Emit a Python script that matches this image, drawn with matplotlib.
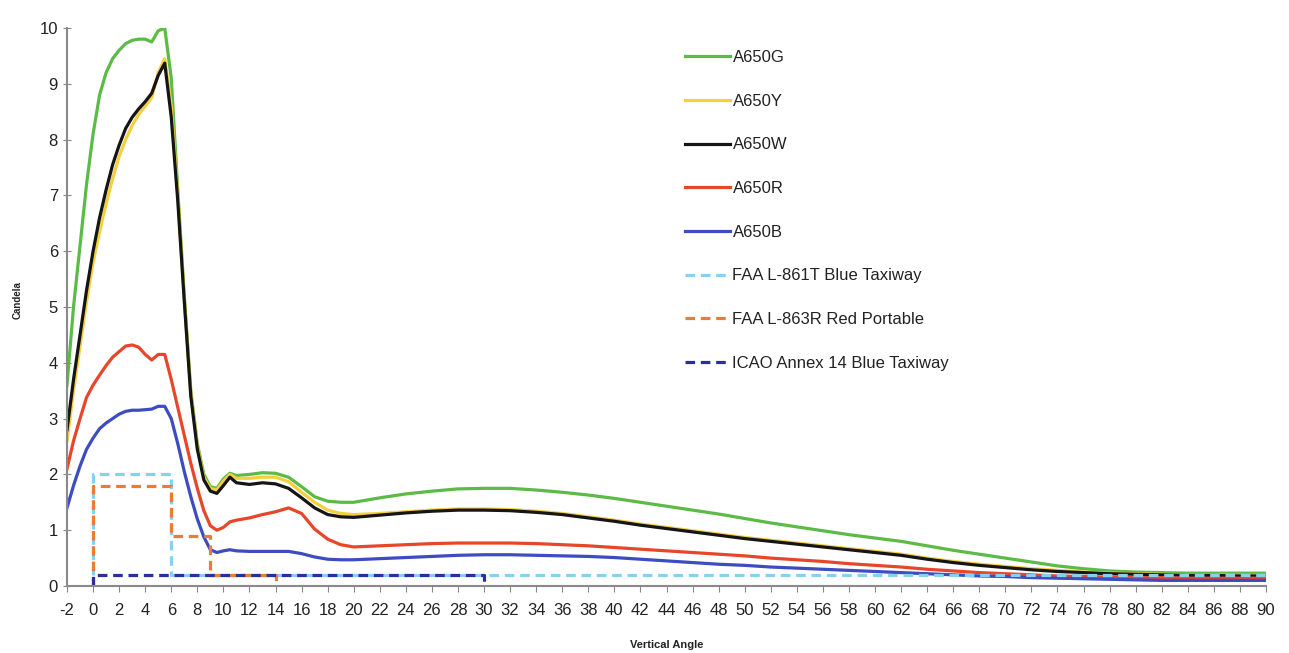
import matplotlib
matplotlib.use("Agg")
import matplotlib.pyplot as plt

plt.rcParams['font.family'] = ['Liberation Sans', 'DejaVu Sans']
plt.rcParams['axes.unicode_minus'] = False

angles = [-2, -1.5, -1, -0.5, 0, 0.5, 1, 1.5, 2, 2.5, 3, 3.5, 4, 4.5, 5, 5.5, 6, 6.5,
          7, 7.5, 8, 8.5, 9, 9.5, 10, 10.5, 11, 12, 13, 14, 15, 16, 17, 18, 19, 20,
          22, 24, 26, 28, 30, 32, 34, 36, 38, 40, 42, 44, 46, 48, 50, 52, 54, 56, 58,
          60, 62, 64, 66, 68, 70, 72, 74, 76, 78, 80, 82, 84, 86, 88, 90]

a650g = [3.6, 5.0, 6.1, 7.2, 8.1, 8.8, 9.2, 9.45, 9.6, 9.72, 9.78, 9.8, 9.8, 9.75, 9.95, 10.0, 9.1, 7.1,
         5.2, 3.5, 2.55, 2.0, 1.78, 1.75, 1.92, 2.02, 1.98, 2.0, 2.03, 2.02, 1.95, 1.78, 1.6, 1.52, 1.5, 1.5,
         1.58, 1.65, 1.7, 1.74, 1.75, 1.75, 1.72, 1.68, 1.63, 1.57, 1.5, 1.43, 1.36, 1.29, 1.21, 1.13, 1.06, 0.99, 0.92,
         0.86, 0.8, 0.72, 0.64, 0.57, 0.5, 0.43, 0.36, 0.31, 0.27, 0.25, 0.24, 0.23, 0.23, 0.23, 0.23]

a650y = [2.6, 3.5, 4.3, 5.1, 5.8, 6.35, 6.85, 7.3, 7.7, 8.0, 8.25, 8.45, 8.6, 8.75, 9.2, 9.45, 8.6, 7.0,
         5.15, 3.45, 2.5, 1.95, 1.75, 1.72, 1.88, 2.0, 1.93, 1.93, 1.95, 1.95, 1.87, 1.68, 1.5, 1.36, 1.3, 1.28,
         1.3, 1.33, 1.36, 1.38, 1.38, 1.37, 1.34, 1.3, 1.24, 1.18, 1.11, 1.05, 0.99, 0.93, 0.87, 0.82, 0.77, 0.72, 0.67,
         0.62, 0.57, 0.5, 0.44, 0.39, 0.35, 0.31, 0.28, 0.25, 0.23, 0.22, 0.21, 0.2, 0.2, 0.19, 0.19]

a650w = [2.8, 3.7, 4.5, 5.3, 6.0, 6.6, 7.1, 7.55, 7.9, 8.2, 8.4, 8.55, 8.68, 8.83, 9.15, 9.37, 8.4, 6.9,
         5.1, 3.4, 2.45, 1.9, 1.7, 1.66, 1.8, 1.95, 1.85, 1.82, 1.85, 1.83, 1.75, 1.58, 1.4, 1.28, 1.24, 1.23,
         1.27, 1.31, 1.34, 1.36, 1.36, 1.35, 1.32, 1.28, 1.22, 1.16, 1.09, 1.03, 0.97, 0.91, 0.85, 0.8, 0.75, 0.7, 0.65,
         0.6, 0.55, 0.48, 0.42, 0.37, 0.33, 0.29, 0.26, 0.24, 0.22, 0.21, 0.2, 0.19, 0.19, 0.18, 0.18]

a650r = [2.1, 2.6, 3.0, 3.38, 3.6, 3.78, 3.95, 4.1, 4.2, 4.3, 4.32, 4.28, 4.15, 4.05, 4.15, 4.15, 3.7, 3.2,
         2.7, 2.2, 1.75, 1.35, 1.08, 1.0, 1.05, 1.15, 1.18, 1.22, 1.28, 1.33, 1.4, 1.3, 1.02, 0.84, 0.74, 0.7,
         0.72, 0.74, 0.76, 0.77, 0.77, 0.77, 0.76, 0.74, 0.72, 0.69, 0.66, 0.63, 0.6, 0.57, 0.54, 0.5, 0.47, 0.44, 0.4,
         0.37, 0.34, 0.3, 0.27, 0.24, 0.22, 0.2, 0.18, 0.17, 0.16, 0.15, 0.15, 0.14, 0.14, 0.14, 0.14]

a650b = [1.4, 1.8, 2.15, 2.45, 2.65, 2.82, 2.92, 3.0, 3.08, 3.13, 3.15, 3.15, 3.16, 3.17, 3.22, 3.22, 3.0, 2.55,
         2.05, 1.6, 1.2, 0.88, 0.65, 0.6, 0.63, 0.65, 0.63, 0.62, 0.62, 0.62, 0.62, 0.58, 0.52, 0.48, 0.47, 0.47,
         0.49, 0.51, 0.53, 0.55, 0.56, 0.56, 0.55, 0.54, 0.53, 0.51, 0.48, 0.45, 0.42, 0.39, 0.37, 0.34, 0.32, 0.3, 0.28,
         0.26, 0.24, 0.22, 0.2, 0.18, 0.17, 0.15, 0.14, 0.13, 0.12, 0.11, 0.1, 0.1, 0.1, 0.1, 0.1]

# Specification step lines
faa861_x = [0, 0, 6, 6, 90]
faa861_y = [0.2, 2.0, 2.0, 0.2, 0.2]
faa863_x = [0, 0, 6, 6, 9, 9, 14, 14]
faa863_y = [0, 1.8, 1.8, 0.9, 0.9, 0.2, 0.2, 0]
icao_x = [0, 0, 30, 30]
icao_y = [0, 0.2, 0.2, 0]

x_ticks = list(range(-2, 91, 2))
y_ticks = list(range(0, 11))

W, H = 1289, 653
fig = plt.figure(figsize=(W / 100, H / 100), dpi=100)
ax = fig.add_axes([67 / W, 1 - 586 / H, (1266 - 67) / W, (586 - 28) / H])

lw = 2.3
ax.plot(angles, a650g, color='#5cbb46', lw=lw, label='A650G')
ax.plot(angles, a650y, color='#f4cf3e', lw=lw, label='A650Y')
ax.plot(angles, a650w, color='#151515', lw=lw, label='A650W')
ax.plot(angles, a650r, color='#e8462a', lw=lw, label='A650R')
ax.plot(angles, a650b, color='#3d4cc0', lw=lw, label='A650B')
ax.plot(faa861_x, faa861_y, color='#86d0f0', lw=lw, ls=(0, (3, 1.8)), label='FAA L-861T Blue Taxiway')
ax.plot(faa863_x, faa863_y, color='#ea7d35', lw=lw, ls=(0, (3, 1.8)), label='FAA L-863R Red Portable')
ax.plot(icao_x, icao_y, color='#2c2ea0', lw=lw, ls=(0, (3, 1.8)), label='ICAO Annex 14 Blue Taxiway')

ax.set_xlim(-2, 90)
ax.set_ylim(0, 10)
ax.set_xticks(x_ticks)
ax.set_yticks(y_ticks)
ax.tick_params(axis='both', labelsize=12, colors='#888888', labelcolor='#222222', length=4)
ax.tick_params(axis='y', direction='inout', length=6)
ax.tick_params(axis='x', direction='out', length=4, pad=8)
for s in ['top', 'right']:
    ax.spines[s].set_visible(False)
for s in ['left', 'bottom']:
    ax.spines[s].set_color('#8a8a8a')
    ax.spines[s].set_linewidth(1.5)

fig.text(18 / W, 1 - 300 / H, 'Candela', rotation=90, fontsize=7, fontweight='bold',
         ha='center', va='center', color='#222222')
fig.text(667 / W, 1 - 645 / H, 'Vertical Angle', fontsize=8, fontweight='bold',
         ha='center', va='center', color='#222222')

leg = ax.legend(loc='upper left', bbox_to_anchor=(670 / W, 1 - 35 / H),
                bbox_transform=fig.transFigure, frameon=False, fontsize=12,
                handlelength=2.7, handletextpad=0.15, labelspacing=1.72)
for t in leg.get_texts():
    t.set_color('#222222')

fig.savefig('out.png', dpi=100, facecolor='white')
